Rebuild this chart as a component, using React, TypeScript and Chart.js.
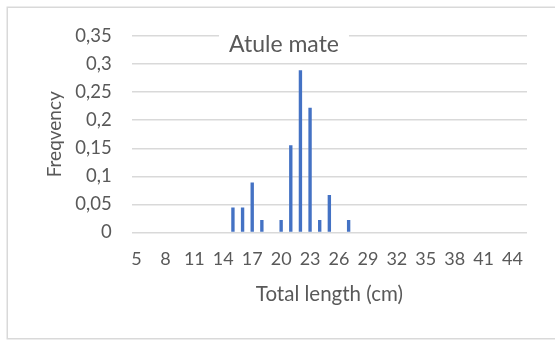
import React, { useEffect, useRef } from "react";
import { Chart, registerables } from "chart.js";

Chart.register(...registerables);

const CATEGORIES: string[] = [
  "5", "6", "7", "8", "9", "10", "11", "12", "13", "14",
  "15", "16", "17", "18", "19", "20", "21", "22", "23", "24",
  "25", "26", "27", "28", "29", "30", "31", "32", "33", "34",
  "35", "36", "37", "38", "39", "40", "41", "42", "43", "44", "45",
];

const FREQUENCY: number[] = [
  0, 0, 0, 0, 0, 0, 0, 0, 0, 0,
  0.0444, 0.0444, 0.0889, 0.0222, 0, 0.0222, 0.1556, 0.2889, 0.2222, 0.0222,
  0.0667, 0, 0.0222, 0, 0, 0, 0, 0, 0, 0,
  0, 0, 0, 0, 0, 0, 0, 0, 0, 0, 0,
];

const SHOWN_X_TICKS: string[] = ["5", "8", "11", "14", "17", "20", "23", "26", "29", "32", "35", "38", "41", "44"];

const TITLE = "Atule mate";
const X_TITLE = "Total length (cm)";
const Y_TITLE = "Freqvency";

const FONT = "Lato, 'Open Sans', sans-serif";
const TEXT_COLOR = "#595959";
const GRID_COLOR = "#d9d9d9";
const BAR_COLOR = "#4472c4";

export default function App() {
  const ref = useRef<HTMLCanvasElement | null>(null);

  useEffect(() => {
    if (!ref.current) return;

    const framePlugin = {
      id: "frame",
      beforeDraw(chart: any) {
        const ctx = chart.ctx;
        ctx.save();
        ctx.fillStyle = "#ffffff";
        ctx.fillRect(0, 0, chart.width, chart.height);
        ctx.strokeStyle = GRID_COLOR;
        ctx.lineWidth = 1.5;
        ctx.strokeRect(7.25, 7.25, 600, 331.5);
        ctx.restore();
      },
      afterDatasetsDraw(chart: any) {
        const ctx = chart.ctx;
        ctx.save();
        ctx.font = `23px ${FONT}`;
        const w = ctx.measureText(TITLE).width;
        const cx = 284;
        const baseline = 51.5;
        ctx.fillStyle = "#ffffff";
        ctx.fillRect(cx - w / 2 - 10, baseline - 22, w + 20, 30);
        ctx.fillStyle = TEXT_COLOR;
        ctx.textAlign = "center";
        ctx.textBaseline = "alphabetic";
        ctx.fillText(TITLE, cx, baseline);
        ctx.restore();
      },
    };

    const chart = new Chart(ref.current, {
      type: "bar",
      data: {
        labels: CATEGORIES,
        datasets: [
          {
            data: FREQUENCY,
            backgroundColor: BAR_COLOR,
            borderWidth: 0,
            barPercentage: 0.35,
            categoryPercentage: 1,
          },
        ],
      },
      options: {
        responsive: false,
        animation: false,
        devicePixelRatio: 1,
        layout: { padding: { left: 0, right: 28, top: 36, bottom: 0 } },
        plugins: {
          legend: { display: false },
          tooltip: { enabled: false },
          title: { display: false },
        },
        scales: {
          x: {
            grid: { display: false },
            border: { display: false },
            ticks: {
              autoSkip: false,
              maxRotation: 0,
              minRotation: 0,
              padding: 8,
              color: TEXT_COLOR,
              font: { family: FONT, size: 18 },
              callback: (_v: any, i: number) =>
                SHOWN_X_TICKS.includes(CATEGORIES[i]) ? CATEGORIES[i] : "",
            },
            title: {
              display: true,
              text: X_TITLE,
              color: TEXT_COLOR,
              font: { family: FONT, size: 20.5 },
              padding: { top: 0, bottom: 33.5 },
            },
            afterFit: (s: any) => {
              s.height = 107.5;
            },
          },
          y: {
            min: 0,
            max: 0.35,
            grid: { color: GRID_COLOR, lineWidth: 1.5, drawTicks: false },
            border: { display: false },
            ticks: {
              stepSize: 0.05,
              padding: 20,
              color: TEXT_COLOR,
              font: { family: FONT, size: 18.5 },
              callback: (v: any) =>
                String(Math.round(Number(v) * 100) / 100).replace(".", ","),
            },
            title: {
              display: true,
              text: Y_TITLE,
              color: TEXT_COLOR,
              font: { family: FONT, size: 19 },
              padding: { top: 43.4, bottom: 0 },
            },
            afterFit: (s: any) => {
              s.width = 131.7;
            },
          },
        },
      },
      plugins: [framePlugin],
    });

    return () => chart.destroy();
  }, []);

  return (
    <div style={{ position: "fixed", left: 0, top: 0, width: 555, height: 340 }}>
      <canvas ref={ref} width={555} height={340} style={{ display: "block" }} />
    </div>
  );
}
